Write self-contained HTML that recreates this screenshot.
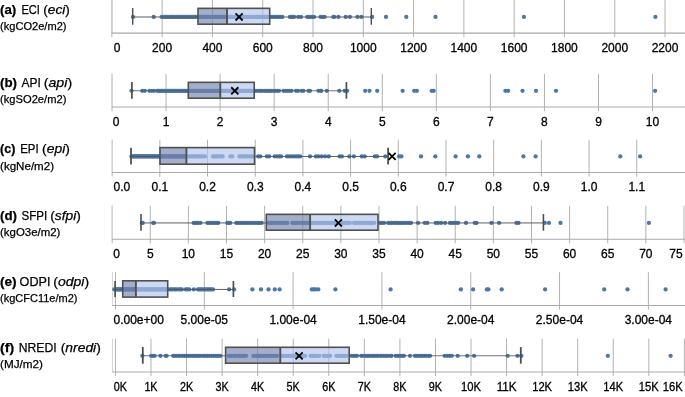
<!DOCTYPE html>
<html><head><meta charset="utf-8"><title>Box plots</title>
<style>html,body{margin:0;padding:0;background:#fff;}body{width:685px;height:397px;overflow:hidden;position:relative;font-family:"Liberation Sans",sans-serif;}</style>
</head><body>
<svg width="685" height="397" viewBox="0 0 685 397" style="display:block;position:absolute;left:0;top:0;will-change:transform" font-family="Liberation Sans, sans-serif">
<rect x="0" y="0" width="685" height="397" fill="#ffffff"/>
<g><line x1="111.85" y1="0.00" x2="111.85" y2="37.20" stroke="#b2b2b2" stroke-width="1.0"/><line x1="162.14" y1="0.00" x2="162.14" y2="37.20" stroke="#b2b2b2" stroke-width="1.0"/><line x1="212.43" y1="0.00" x2="212.43" y2="37.20" stroke="#b2b2b2" stroke-width="1.0"/><line x1="262.72" y1="0.00" x2="262.72" y2="37.20" stroke="#b2b2b2" stroke-width="1.0"/><line x1="313.01" y1="0.00" x2="313.01" y2="37.20" stroke="#b2b2b2" stroke-width="1.0"/><line x1="363.30" y1="0.00" x2="363.30" y2="37.20" stroke="#b2b2b2" stroke-width="1.0"/><line x1="413.59" y1="0.00" x2="413.59" y2="37.20" stroke="#b2b2b2" stroke-width="1.0"/><line x1="463.88" y1="0.00" x2="463.88" y2="37.20" stroke="#b2b2b2" stroke-width="1.0"/><line x1="514.17" y1="0.00" x2="514.17" y2="37.20" stroke="#b2b2b2" stroke-width="1.0"/><line x1="564.46" y1="0.00" x2="564.46" y2="37.20" stroke="#b2b2b2" stroke-width="1.0"/><line x1="614.75" y1="0.00" x2="614.75" y2="37.20" stroke="#b2b2b2" stroke-width="1.0"/><line x1="665.04" y1="0.00" x2="665.04" y2="37.20" stroke="#b2b2b2" stroke-width="1.0"/><line x1="112.45" y1="0.00" x2="112.45" y2="33.10" stroke="#d4d4d4" stroke-width="1.0"/><line x1="111.9" y1="33.10" x2="685" y2="33.10" stroke="#a9a9a9" stroke-width="1.05"/><g fill="#4a78aa"><circle cx="133.00" cy="16.95" r="2.15"/><circle cx="153.70" cy="16.95" r="2.15"/><circle cx="161.63" cy="16.95" r="2.15"/><circle cx="162.66" cy="16.95" r="2.15"/><circle cx="163.96" cy="16.95" r="2.15"/><circle cx="164.83" cy="16.95" r="2.15"/><circle cx="166.11" cy="16.95" r="2.15"/><circle cx="167.15" cy="16.95" r="2.15"/><circle cx="168.12" cy="16.95" r="2.15"/><circle cx="169.40" cy="16.95" r="2.15"/><circle cx="170.31" cy="16.95" r="2.15"/><circle cx="171.57" cy="16.95" r="2.15"/><circle cx="172.53" cy="16.95" r="2.15"/><circle cx="173.64" cy="16.95" r="2.15"/><circle cx="174.87" cy="16.95" r="2.15"/><circle cx="176.13" cy="16.95" r="2.15"/><circle cx="176.95" cy="16.95" r="2.15"/><circle cx="178.09" cy="16.95" r="2.15"/><circle cx="179.35" cy="16.95" r="2.15"/><circle cx="180.58" cy="16.95" r="2.15"/><circle cx="181.53" cy="16.95" r="2.15"/><circle cx="182.56" cy="16.95" r="2.15"/><circle cx="183.89" cy="16.95" r="2.15"/><circle cx="184.62" cy="16.95" r="2.15"/><circle cx="186.04" cy="16.95" r="2.15"/><circle cx="186.92" cy="16.95" r="2.15"/><circle cx="187.96" cy="16.95" r="2.15"/><circle cx="189.05" cy="16.95" r="2.15"/><circle cx="190.22" cy="16.95" r="2.15"/><circle cx="191.53" cy="16.95" r="2.15"/><circle cx="192.37" cy="16.95" r="2.15"/><circle cx="193.63" cy="16.95" r="2.15"/><circle cx="194.76" cy="16.95" r="2.15"/><circle cx="195.75" cy="16.95" r="2.15"/><circle cx="196.92" cy="16.95" r="2.15"/><circle cx="197.83" cy="16.95" r="2.15"/><circle cx="198.92" cy="16.95" r="2.15"/><circle cx="200.08" cy="16.95" r="2.15"/><circle cx="201.37" cy="16.95" r="2.15"/><circle cx="202.37" cy="16.95" r="2.15"/><circle cx="203.43" cy="16.95" r="2.15"/><circle cx="204.63" cy="16.95" r="2.15"/><circle cx="205.68" cy="16.95" r="2.15"/><circle cx="206.72" cy="16.95" r="2.15"/><circle cx="208.02" cy="16.95" r="2.15"/><circle cx="209.08" cy="16.95" r="2.15"/><circle cx="210.00" cy="16.95" r="2.15"/><circle cx="211.23" cy="16.95" r="2.15"/><circle cx="212.31" cy="16.95" r="2.15"/><circle cx="213.55" cy="16.95" r="2.15"/><circle cx="214.59" cy="16.95" r="2.15"/><circle cx="215.52" cy="16.95" r="2.15"/><circle cx="216.89" cy="16.95" r="2.15"/><circle cx="217.65" cy="16.95" r="2.15"/><circle cx="218.87" cy="16.95" r="2.15"/><circle cx="220.10" cy="16.95" r="2.15"/><circle cx="220.96" cy="16.95" r="2.15"/><circle cx="222.20" cy="16.95" r="2.15"/><circle cx="223.12" cy="16.95" r="2.15"/><circle cx="224.47" cy="16.95" r="2.15"/><circle cx="225.61" cy="16.95" r="2.15"/><circle cx="226.63" cy="16.95" r="2.15"/><circle cx="227.85" cy="16.95" r="2.15"/><circle cx="228.73" cy="16.95" r="2.15"/><circle cx="229.98" cy="16.95" r="2.15"/><circle cx="231.04" cy="16.95" r="2.15"/><circle cx="232.13" cy="16.95" r="2.15"/><circle cx="233.18" cy="16.95" r="2.15"/><circle cx="234.44" cy="16.95" r="2.15"/><circle cx="235.58" cy="16.95" r="2.15"/><circle cx="236.49" cy="16.95" r="2.15"/><circle cx="237.67" cy="16.95" r="2.15"/><circle cx="238.52" cy="16.95" r="2.15"/><circle cx="239.88" cy="16.95" r="2.15"/><circle cx="240.96" cy="16.95" r="2.15"/><circle cx="242.20" cy="16.95" r="2.15"/><circle cx="243.23" cy="16.95" r="2.15"/><circle cx="244.11" cy="16.95" r="2.15"/><circle cx="245.25" cy="16.95" r="2.15"/><circle cx="246.47" cy="16.95" r="2.15"/><circle cx="247.31" cy="16.95" r="2.15"/><circle cx="248.58" cy="16.95" r="2.15"/><circle cx="249.57" cy="16.95" r="2.15"/><circle cx="250.65" cy="16.95" r="2.15"/><circle cx="251.72" cy="16.95" r="2.15"/><circle cx="253.11" cy="16.95" r="2.15"/><circle cx="253.95" cy="16.95" r="2.15"/><circle cx="255.10" cy="16.95" r="2.15"/><circle cx="256.26" cy="16.95" r="2.15"/><circle cx="257.55" cy="16.95" r="2.15"/><circle cx="258.33" cy="16.95" r="2.15"/><circle cx="259.58" cy="16.95" r="2.15"/><circle cx="260.72" cy="16.95" r="2.15"/><circle cx="261.95" cy="16.95" r="2.15"/><circle cx="263.03" cy="16.95" r="2.15"/><circle cx="264.15" cy="16.95" r="2.15"/><circle cx="265.01" cy="16.95" r="2.15"/><circle cx="266.17" cy="16.95" r="2.15"/><circle cx="267.24" cy="16.95" r="2.15"/><circle cx="268.55" cy="16.95" r="2.15"/><circle cx="269.68" cy="16.95" r="2.15"/><circle cx="271.50" cy="16.95" r="2.15"/><circle cx="272.84" cy="16.95" r="2.15"/><circle cx="274.49" cy="16.95" r="2.15"/><circle cx="276.09" cy="16.95" r="2.15"/><circle cx="277.89" cy="16.95" r="2.15"/><circle cx="279.57" cy="16.95" r="2.15"/><circle cx="280.91" cy="16.95" r="2.15"/><circle cx="282.30" cy="16.95" r="2.15"/><circle cx="289.90" cy="16.95" r="2.15"/><circle cx="291.40" cy="16.95" r="2.15"/><circle cx="292.80" cy="16.95" r="2.15"/><circle cx="294.20" cy="16.95" r="2.15"/><circle cx="298.20" cy="16.95" r="2.15"/><circle cx="301.00" cy="16.95" r="2.15"/><circle cx="307.30" cy="16.95" r="2.15"/><circle cx="309.00" cy="16.95" r="2.15"/><circle cx="310.70" cy="16.95" r="2.15"/><circle cx="312.40" cy="16.95" r="2.15"/><circle cx="314.10" cy="16.95" r="2.15"/><circle cx="320.60" cy="16.95" r="2.15"/><circle cx="322.60" cy="16.95" r="2.15"/><circle cx="324.60" cy="16.95" r="2.15"/><circle cx="333.40" cy="16.95" r="2.15"/><circle cx="334.20" cy="16.95" r="2.15"/><circle cx="338.40" cy="16.95" r="2.15"/><circle cx="345.70" cy="16.95" r="2.15"/><circle cx="349.90" cy="16.95" r="2.15"/><circle cx="357.50" cy="16.95" r="2.15"/><circle cx="361.40" cy="16.95" r="2.15"/><circle cx="372.20" cy="16.95" r="2.15"/><circle cx="386.00" cy="16.95" r="2.15"/><circle cx="406.30" cy="16.95" r="2.15"/><circle cx="435.50" cy="16.95" r="2.15"/><circle cx="523.90" cy="16.95" r="2.15"/><circle cx="655.40" cy="16.95" r="2.15"/></g><line x1="132.70" y1="17.00" x2="198.00" y2="17.00" stroke="#545454" stroke-opacity="0.95" stroke-width="1.0"/><line x1="269.70" y1="17.00" x2="371.30" y2="17.00" stroke="#545454" stroke-opacity="0.95" stroke-width="1.0"/><line x1="132.70" y1="8.00" x2="132.70" y2="24.80" stroke="#4e4e4e" stroke-width="1.4"/><line x1="371.30" y1="8.00" x2="371.30" y2="24.80" stroke="#4e4e4e" stroke-width="1.4"/><rect x="198.00" y="8.35" width="29.00" height="15.85" fill="rgb(116,131,172)" fill-opacity="0.65"/><rect x="227.00" y="8.35" width="42.70" height="15.85" fill="rgb(178,195,235)" fill-opacity="0.65"/><rect x="198.00" y="8.35" width="71.70" height="15.85" fill="none" stroke="#505050" stroke-width="1.6"/><line x1="227.00" y1="8.35" x2="227.00" y2="24.20" stroke="#505050" stroke-width="1.9"/><path d="M235.55 13.40L242.65 20.50M235.55 20.50L242.65 13.40" stroke="#000" stroke-width="1.8" fill="none"/><text x="117.00" y="51.70" font-size="12" text-anchor="middle" fill="#000" stroke="#000" stroke-width="0.3">0</text><text x="162.14" y="51.70" font-size="12" text-anchor="middle" fill="#000" stroke="#000" stroke-width="0.3">200</text><text x="212.43" y="51.70" font-size="12" text-anchor="middle" fill="#000" stroke="#000" stroke-width="0.3">400</text><text x="262.72" y="51.70" font-size="12" text-anchor="middle" fill="#000" stroke="#000" stroke-width="0.3">600</text><text x="313.01" y="51.70" font-size="12" text-anchor="middle" fill="#000" stroke="#000" stroke-width="0.3">800</text><text x="363.30" y="51.70" font-size="12" text-anchor="middle" fill="#000" stroke="#000" stroke-width="0.3">1000</text><text x="413.59" y="51.70" font-size="12" text-anchor="middle" fill="#000" stroke="#000" stroke-width="0.3">1200</text><text x="463.88" y="51.70" font-size="12" text-anchor="middle" fill="#000" stroke="#000" stroke-width="0.3">1400</text><text x="514.17" y="51.70" font-size="12" text-anchor="middle" fill="#000" stroke="#000" stroke-width="0.3">1600</text><text x="564.46" y="51.70" font-size="12" text-anchor="middle" fill="#000" stroke="#000" stroke-width="0.3">1800</text><text x="614.75" y="51.70" font-size="12" text-anchor="middle" fill="#000" stroke="#000" stroke-width="0.3">2000</text><text x="665.04" y="51.70" font-size="12" text-anchor="middle" fill="#000" stroke="#000" stroke-width="0.3">2200</text><text x="0.05" y="13.50" font-size="13.0" textLength="16.19" lengthAdjust="spacingAndGlyphs" fill="#000" stroke="#000" stroke-width="0.25" font-weight="bold">(a)</text><text x="21.40" y="13.50" font-size="13.0" textLength="18.49" lengthAdjust="spacingAndGlyphs" fill="#000" stroke="#000" stroke-width="0.25">ECI</text><text x="43.25" y="13.50" font-size="13.0" textLength="26.60" lengthAdjust="spacingAndGlyphs" fill="#000" stroke="#000" stroke-width="0.25">(<tspan font-style='italic'>eci</tspan>)</text><text x="0.05" y="29.80" font-size="11.0" textLength="66.48" lengthAdjust="spacingAndGlyphs" fill="#000" stroke="#000" stroke-width="0.25">(kgCO2e/m2)</text></g>
<g><line x1="112.00" y1="73.80" x2="112.00" y2="111.15" stroke="#b2b2b2" stroke-width="1.0"/><line x1="166.06" y1="73.80" x2="166.06" y2="111.15" stroke="#b2b2b2" stroke-width="1.0"/><line x1="220.11" y1="73.80" x2="220.11" y2="111.15" stroke="#b2b2b2" stroke-width="1.0"/><line x1="274.16" y1="73.80" x2="274.16" y2="111.15" stroke="#b2b2b2" stroke-width="1.0"/><line x1="328.22" y1="73.80" x2="328.22" y2="111.15" stroke="#b2b2b2" stroke-width="1.0"/><line x1="382.27" y1="73.80" x2="382.27" y2="111.15" stroke="#b2b2b2" stroke-width="1.0"/><line x1="436.33" y1="73.80" x2="436.33" y2="111.15" stroke="#b2b2b2" stroke-width="1.0"/><line x1="490.38" y1="73.80" x2="490.38" y2="111.15" stroke="#b2b2b2" stroke-width="1.0"/><line x1="544.44" y1="73.80" x2="544.44" y2="111.15" stroke="#b2b2b2" stroke-width="1.0"/><line x1="598.50" y1="73.80" x2="598.50" y2="111.15" stroke="#b2b2b2" stroke-width="1.0"/><line x1="652.55" y1="73.80" x2="652.55" y2="111.15" stroke="#b2b2b2" stroke-width="1.0"/><line x1="112.45" y1="73.80" x2="112.45" y2="107.05" stroke="#d4d4d4" stroke-width="1.0"/><line x1="111.9" y1="107.05" x2="685" y2="107.05" stroke="#a9a9a9" stroke-width="1.05"/><g fill="#4a78aa"><circle cx="131.50" cy="90.80" r="2.15"/><circle cx="142.30" cy="90.80" r="2.15"/><circle cx="144.80" cy="90.80" r="2.15"/><circle cx="149.50" cy="90.80" r="2.15"/><circle cx="151.70" cy="90.80" r="2.15"/><circle cx="154.00" cy="90.80" r="2.15"/><circle cx="157.27" cy="90.80" r="2.15"/><circle cx="158.35" cy="90.80" r="2.15"/><circle cx="159.53" cy="90.80" r="2.15"/><circle cx="160.78" cy="90.80" r="2.15"/><circle cx="161.78" cy="90.80" r="2.15"/><circle cx="162.81" cy="90.80" r="2.15"/><circle cx="163.95" cy="90.80" r="2.15"/><circle cx="165.07" cy="90.80" r="2.15"/><circle cx="165.92" cy="90.80" r="2.15"/><circle cx="167.36" cy="90.80" r="2.15"/><circle cx="168.41" cy="90.80" r="2.15"/><circle cx="169.55" cy="90.80" r="2.15"/><circle cx="170.62" cy="90.80" r="2.15"/><circle cx="171.56" cy="90.80" r="2.15"/><circle cx="172.66" cy="90.80" r="2.15"/><circle cx="173.64" cy="90.80" r="2.15"/><circle cx="174.95" cy="90.80" r="2.15"/><circle cx="175.82" cy="90.80" r="2.15"/><circle cx="176.93" cy="90.80" r="2.15"/><circle cx="178.08" cy="90.80" r="2.15"/><circle cx="179.16" cy="90.80" r="2.15"/><circle cx="180.34" cy="90.80" r="2.15"/><circle cx="181.32" cy="90.80" r="2.15"/><circle cx="182.40" cy="90.80" r="2.15"/><circle cx="183.56" cy="90.80" r="2.15"/><circle cx="184.64" cy="90.80" r="2.15"/><circle cx="185.85" cy="90.80" r="2.15"/><circle cx="186.81" cy="90.80" r="2.15"/><circle cx="188.25" cy="90.80" r="2.15"/><circle cx="189.25" cy="90.80" r="2.15"/><circle cx="190.16" cy="90.80" r="2.15"/><circle cx="191.30" cy="90.80" r="2.15"/><circle cx="192.44" cy="90.80" r="2.15"/><circle cx="193.55" cy="90.80" r="2.15"/><circle cx="194.55" cy="90.80" r="2.15"/><circle cx="195.94" cy="90.80" r="2.15"/><circle cx="197.10" cy="90.80" r="2.15"/><circle cx="197.99" cy="90.80" r="2.15"/><circle cx="199.09" cy="90.80" r="2.15"/><circle cx="200.03" cy="90.80" r="2.15"/><circle cx="201.14" cy="90.80" r="2.15"/><circle cx="202.34" cy="90.80" r="2.15"/><circle cx="203.41" cy="90.80" r="2.15"/><circle cx="204.73" cy="90.80" r="2.15"/><circle cx="205.56" cy="90.80" r="2.15"/><circle cx="206.61" cy="90.80" r="2.15"/><circle cx="208.08" cy="90.80" r="2.15"/><circle cx="209.01" cy="90.80" r="2.15"/><circle cx="209.96" cy="90.80" r="2.15"/><circle cx="211.22" cy="90.80" r="2.15"/><circle cx="212.11" cy="90.80" r="2.15"/><circle cx="213.41" cy="90.80" r="2.15"/><circle cx="214.69" cy="90.80" r="2.15"/><circle cx="215.75" cy="90.80" r="2.15"/><circle cx="216.78" cy="90.80" r="2.15"/><circle cx="217.70" cy="90.80" r="2.15"/><circle cx="218.85" cy="90.80" r="2.15"/><circle cx="219.87" cy="90.80" r="2.15"/><circle cx="221.21" cy="90.80" r="2.15"/><circle cx="222.21" cy="90.80" r="2.15"/><circle cx="223.41" cy="90.80" r="2.15"/><circle cx="224.33" cy="90.80" r="2.15"/><circle cx="225.39" cy="90.80" r="2.15"/><circle cx="226.72" cy="90.80" r="2.15"/><circle cx="227.89" cy="90.80" r="2.15"/><circle cx="228.94" cy="90.80" r="2.15"/><circle cx="230.02" cy="90.80" r="2.15"/><circle cx="231.13" cy="90.80" r="2.15"/><circle cx="232.20" cy="90.80" r="2.15"/><circle cx="233.09" cy="90.80" r="2.15"/><circle cx="234.31" cy="90.80" r="2.15"/><circle cx="235.34" cy="90.80" r="2.15"/><circle cx="236.31" cy="90.80" r="2.15"/><circle cx="237.41" cy="90.80" r="2.15"/><circle cx="238.61" cy="90.80" r="2.15"/><circle cx="239.70" cy="90.80" r="2.15"/><circle cx="240.98" cy="90.80" r="2.15"/><circle cx="242.18" cy="90.80" r="2.15"/><circle cx="243.08" cy="90.80" r="2.15"/><circle cx="244.37" cy="90.80" r="2.15"/><circle cx="245.50" cy="90.80" r="2.15"/><circle cx="246.58" cy="90.80" r="2.15"/><circle cx="247.45" cy="90.80" r="2.15"/><circle cx="248.49" cy="90.80" r="2.15"/><circle cx="249.59" cy="90.80" r="2.15"/><circle cx="250.68" cy="90.80" r="2.15"/><circle cx="251.78" cy="90.80" r="2.15"/><circle cx="253.05" cy="90.80" r="2.15"/><circle cx="254.26" cy="90.80" r="2.15"/><circle cx="255.34" cy="90.80" r="2.15"/><circle cx="257.30" cy="90.80" r="2.15"/><circle cx="259.09" cy="90.80" r="2.15"/><circle cx="260.87" cy="90.80" r="2.15"/><circle cx="261.88" cy="90.80" r="2.15"/><circle cx="264.04" cy="90.80" r="2.15"/><circle cx="265.92" cy="90.80" r="2.15"/><circle cx="267.45" cy="90.80" r="2.15"/><circle cx="269.08" cy="90.80" r="2.15"/><circle cx="270.48" cy="90.80" r="2.15"/><circle cx="271.86" cy="90.80" r="2.15"/><circle cx="274.06" cy="90.80" r="2.15"/><circle cx="275.30" cy="90.80" r="2.15"/><circle cx="277.37" cy="90.80" r="2.15"/><circle cx="279.00" cy="90.80" r="2.15"/><circle cx="283.50" cy="90.80" r="2.15"/><circle cx="285.50" cy="90.80" r="2.15"/><circle cx="287.50" cy="90.80" r="2.15"/><circle cx="289.50" cy="90.80" r="2.15"/><circle cx="291.50" cy="90.80" r="2.15"/><circle cx="296.00" cy="90.80" r="2.15"/><circle cx="298.00" cy="90.80" r="2.15"/><circle cx="301.50" cy="90.80" r="2.15"/><circle cx="303.50" cy="90.80" r="2.15"/><circle cx="308.50" cy="90.80" r="2.15"/><circle cx="310.00" cy="90.80" r="2.15"/><circle cx="318.50" cy="90.80" r="2.15"/><circle cx="320.70" cy="90.80" r="2.15"/><circle cx="321.30" cy="90.80" r="2.15"/><circle cx="326.80" cy="90.80" r="2.15"/><circle cx="339.30" cy="90.80" r="2.15"/><circle cx="344.60" cy="90.80" r="2.15"/><circle cx="347.10" cy="90.80" r="2.15"/><circle cx="365.20" cy="90.80" r="2.15"/><circle cx="369.50" cy="90.80" r="2.15"/><circle cx="377.20" cy="90.80" r="2.15"/><circle cx="402.60" cy="90.80" r="2.15"/><circle cx="414.20" cy="90.80" r="2.15"/><circle cx="416.90" cy="90.80" r="2.15"/><circle cx="431.70" cy="90.80" r="2.15"/><circle cx="433.70" cy="90.80" r="2.15"/><circle cx="505.40" cy="90.80" r="2.15"/><circle cx="508.10" cy="90.80" r="2.15"/><circle cx="522.50" cy="90.80" r="2.15"/><circle cx="536.00" cy="90.80" r="2.15"/><circle cx="556.00" cy="90.80" r="2.15"/><circle cx="655.10" cy="90.80" r="2.15"/></g><line x1="131.90" y1="90.75" x2="188.30" y2="90.75" stroke="#545454" stroke-opacity="0.82" stroke-width="1.05"/><line x1="254.20" y1="90.75" x2="346.40" y2="90.75" stroke="#545454" stroke-opacity="0.82" stroke-width="1.05"/><line x1="131.90" y1="82.10" x2="131.90" y2="98.70" stroke="#4e4e4e" stroke-width="1.7"/><line x1="346.40" y1="82.10" x2="346.40" y2="98.70" stroke="#4e4e4e" stroke-width="1.7"/><rect x="188.30" y="82.35" width="32.00" height="15.85" fill="rgb(116,131,172)" fill-opacity="0.65"/><rect x="220.30" y="82.35" width="33.90" height="15.85" fill="rgb(178,195,235)" fill-opacity="0.65"/><rect x="188.30" y="82.35" width="65.90" height="15.85" fill="none" stroke="#505050" stroke-width="1.6"/><line x1="220.30" y1="82.35" x2="220.30" y2="98.20" stroke="#505050" stroke-width="1.9"/><path d="M231.25 87.25L238.35 94.35M231.25 94.35L238.35 87.25" stroke="#000" stroke-width="1.8" fill="none"/><text x="116.00" y="125.65" font-size="12" text-anchor="middle" fill="#000" stroke="#000" stroke-width="0.3">0</text><text x="166.06" y="125.65" font-size="12" text-anchor="middle" fill="#000" stroke="#000" stroke-width="0.3">1</text><text x="220.11" y="125.65" font-size="12" text-anchor="middle" fill="#000" stroke="#000" stroke-width="0.3">2</text><text x="274.16" y="125.65" font-size="12" text-anchor="middle" fill="#000" stroke="#000" stroke-width="0.3">3</text><text x="328.22" y="125.65" font-size="12" text-anchor="middle" fill="#000" stroke="#000" stroke-width="0.3">4</text><text x="382.27" y="125.65" font-size="12" text-anchor="middle" fill="#000" stroke="#000" stroke-width="0.3">5</text><text x="436.33" y="125.65" font-size="12" text-anchor="middle" fill="#000" stroke="#000" stroke-width="0.3">6</text><text x="490.38" y="125.65" font-size="12" text-anchor="middle" fill="#000" stroke="#000" stroke-width="0.3">7</text><text x="544.44" y="125.65" font-size="12" text-anchor="middle" fill="#000" stroke="#000" stroke-width="0.3">8</text><text x="598.50" y="125.65" font-size="12" text-anchor="middle" fill="#000" stroke="#000" stroke-width="0.3">9</text><text x="652.55" y="125.65" font-size="12" text-anchor="middle" fill="#000" stroke="#000" stroke-width="0.3">10</text><text x="0.05" y="86.90" font-size="13.0" textLength="17.01" lengthAdjust="spacingAndGlyphs" fill="#000" stroke="#000" stroke-width="0.25" font-weight="bold">(b)</text><text x="21.40" y="86.90" font-size="13.0" textLength="19.36" lengthAdjust="spacingAndGlyphs" fill="#000" stroke="#000" stroke-width="0.25">API</text><text x="43.70" y="86.90" font-size="13.0" textLength="28.50" lengthAdjust="spacingAndGlyphs" fill="#000" stroke="#000" stroke-width="0.25">(<tspan font-style='italic'>api</tspan>)</text><text x="0.05" y="103.30" font-size="11.0" textLength="66.33" lengthAdjust="spacingAndGlyphs" fill="#000" stroke="#000" stroke-width="0.25">(kgSO2e/m2)</text></g>
<g><line x1="112.15" y1="139.70" x2="112.15" y2="176.57" stroke="#b2b2b2" stroke-width="1.0"/><line x1="159.84" y1="139.70" x2="159.84" y2="176.57" stroke="#b2b2b2" stroke-width="1.0"/><line x1="207.53" y1="139.70" x2="207.53" y2="176.57" stroke="#b2b2b2" stroke-width="1.0"/><line x1="255.22" y1="139.70" x2="255.22" y2="176.57" stroke="#b2b2b2" stroke-width="1.0"/><line x1="302.91" y1="139.70" x2="302.91" y2="176.57" stroke="#b2b2b2" stroke-width="1.0"/><line x1="350.60" y1="139.70" x2="350.60" y2="176.57" stroke="#b2b2b2" stroke-width="1.0"/><line x1="398.29" y1="139.70" x2="398.29" y2="176.57" stroke="#b2b2b2" stroke-width="1.0"/><line x1="445.98" y1="139.70" x2="445.98" y2="176.57" stroke="#b2b2b2" stroke-width="1.0"/><line x1="493.67" y1="139.70" x2="493.67" y2="176.57" stroke="#b2b2b2" stroke-width="1.0"/><line x1="541.36" y1="139.70" x2="541.36" y2="176.57" stroke="#b2b2b2" stroke-width="1.0"/><line x1="589.05" y1="139.70" x2="589.05" y2="176.57" stroke="#b2b2b2" stroke-width="1.0"/><line x1="636.74" y1="139.70" x2="636.74" y2="176.57" stroke="#b2b2b2" stroke-width="1.0"/><line x1="112.45" y1="139.70" x2="112.45" y2="172.47" stroke="#d4d4d4" stroke-width="1.0"/><line x1="111.9" y1="172.47" x2="685" y2="172.47" stroke="#a9a9a9" stroke-width="1.05"/><g fill="#4a78aa"><circle cx="131.46" cy="156.40" r="2.15"/><circle cx="132.36" cy="156.40" r="2.15"/><circle cx="133.48" cy="156.40" r="2.15"/><circle cx="134.29" cy="156.40" r="2.15"/><circle cx="134.97" cy="156.40" r="2.15"/><circle cx="135.85" cy="156.40" r="2.15"/><circle cx="136.76" cy="156.40" r="2.15"/><circle cx="137.96" cy="156.40" r="2.15"/><circle cx="138.82" cy="156.40" r="2.15"/><circle cx="139.46" cy="156.40" r="2.15"/><circle cx="140.63" cy="156.40" r="2.15"/><circle cx="141.59" cy="156.40" r="2.15"/><circle cx="142.36" cy="156.40" r="2.15"/><circle cx="143.14" cy="156.40" r="2.15"/><circle cx="144.12" cy="156.40" r="2.15"/><circle cx="144.85" cy="156.40" r="2.15"/><circle cx="145.71" cy="156.40" r="2.15"/><circle cx="146.99" cy="156.40" r="2.15"/><circle cx="147.76" cy="156.40" r="2.15"/><circle cx="148.61" cy="156.40" r="2.15"/><circle cx="149.67" cy="156.40" r="2.15"/><circle cx="150.37" cy="156.40" r="2.15"/><circle cx="151.45" cy="156.40" r="2.15"/><circle cx="152.33" cy="156.40" r="2.15"/><circle cx="152.98" cy="156.40" r="2.15"/><circle cx="153.90" cy="156.40" r="2.15"/><circle cx="154.82" cy="156.40" r="2.15"/><circle cx="155.70" cy="156.40" r="2.15"/><circle cx="156.73" cy="156.40" r="2.15"/><circle cx="157.50" cy="156.40" r="2.15"/><circle cx="158.47" cy="156.40" r="2.15"/><circle cx="159.25" cy="156.40" r="2.15"/><circle cx="160.46" cy="156.40" r="2.15"/><circle cx="161.14" cy="156.40" r="2.15"/><circle cx="162.08" cy="156.40" r="2.15"/><circle cx="163.03" cy="156.40" r="2.15"/><circle cx="164.06" cy="156.40" r="2.15"/><circle cx="164.77" cy="156.40" r="2.15"/><circle cx="165.87" cy="156.40" r="2.15"/><circle cx="166.60" cy="156.40" r="2.15"/><circle cx="167.51" cy="156.40" r="2.15"/><circle cx="168.41" cy="156.40" r="2.15"/><circle cx="169.11" cy="156.40" r="2.15"/><circle cx="170.18" cy="156.40" r="2.15"/><circle cx="170.97" cy="156.40" r="2.15"/><circle cx="171.80" cy="156.40" r="2.15"/><circle cx="173.02" cy="156.40" r="2.15"/><circle cx="173.67" cy="156.40" r="2.15"/><circle cx="174.69" cy="156.40" r="2.15"/><circle cx="175.69" cy="156.40" r="2.15"/><circle cx="176.52" cy="156.40" r="2.15"/><circle cx="177.33" cy="156.40" r="2.15"/><circle cx="178.31" cy="156.40" r="2.15"/><circle cx="179.22" cy="156.40" r="2.15"/><circle cx="180.21" cy="156.40" r="2.15"/><circle cx="180.84" cy="156.40" r="2.15"/><circle cx="181.92" cy="156.40" r="2.15"/><circle cx="182.70" cy="156.40" r="2.15"/><circle cx="183.61" cy="156.40" r="2.15"/><circle cx="184.71" cy="156.40" r="2.15"/><circle cx="185.50" cy="156.40" r="2.15"/><circle cx="186.42" cy="156.40" r="2.15"/><circle cx="188.81" cy="156.40" r="2.15"/><circle cx="190.53" cy="156.40" r="2.15"/><circle cx="191.75" cy="156.40" r="2.15"/><circle cx="193.49" cy="156.40" r="2.15"/><circle cx="195.00" cy="156.40" r="2.15"/><circle cx="196.61" cy="156.40" r="2.15"/><circle cx="198.35" cy="156.40" r="2.15"/><circle cx="199.76" cy="156.40" r="2.15"/><circle cx="201.43" cy="156.40" r="2.15"/><circle cx="202.98" cy="156.40" r="2.15"/><circle cx="204.95" cy="156.40" r="2.15"/><circle cx="212.94" cy="156.40" r="2.15"/><circle cx="214.66" cy="156.40" r="2.15"/><circle cx="216.31" cy="156.40" r="2.15"/><circle cx="217.43" cy="156.40" r="2.15"/><circle cx="219.24" cy="156.40" r="2.15"/><circle cx="221.11" cy="156.40" r="2.15"/><circle cx="222.64" cy="156.40" r="2.15"/><circle cx="230.30" cy="156.40" r="2.15"/><circle cx="232.30" cy="156.40" r="2.15"/><circle cx="239.40" cy="156.40" r="2.15"/><circle cx="240.75" cy="156.40" r="2.15"/><circle cx="242.65" cy="156.40" r="2.15"/><circle cx="244.01" cy="156.40" r="2.15"/><circle cx="245.79" cy="156.40" r="2.15"/><circle cx="247.31" cy="156.40" r="2.15"/><circle cx="249.44" cy="156.40" r="2.15"/><circle cx="251.18" cy="156.40" r="2.15"/><circle cx="252.60" cy="156.40" r="2.15"/><circle cx="258.20" cy="156.40" r="2.15"/><circle cx="260.30" cy="156.40" r="2.15"/><circle cx="266.90" cy="156.40" r="2.15"/><circle cx="269.10" cy="156.40" r="2.15"/><circle cx="274.70" cy="156.40" r="2.15"/><circle cx="277.00" cy="156.40" r="2.15"/><circle cx="279.10" cy="156.40" r="2.15"/><circle cx="281.00" cy="156.40" r="2.15"/><circle cx="287.00" cy="156.40" r="2.15"/><circle cx="289.20" cy="156.40" r="2.15"/><circle cx="291.40" cy="156.40" r="2.15"/><circle cx="293.90" cy="156.40" r="2.15"/><circle cx="296.20" cy="156.40" r="2.15"/><circle cx="298.30" cy="156.40" r="2.15"/><circle cx="300.20" cy="156.40" r="2.15"/><circle cx="310.00" cy="156.40" r="2.15"/><circle cx="315.90" cy="156.40" r="2.15"/><circle cx="318.40" cy="156.40" r="2.15"/><circle cx="321.60" cy="156.40" r="2.15"/><circle cx="325.10" cy="156.40" r="2.15"/><circle cx="328.80" cy="156.40" r="2.15"/><circle cx="339.60" cy="156.40" r="2.15"/><circle cx="341.90" cy="156.40" r="2.15"/><circle cx="349.40" cy="156.40" r="2.15"/><circle cx="353.90" cy="156.40" r="2.15"/><circle cx="361.70" cy="156.40" r="2.15"/><circle cx="364.70" cy="156.40" r="2.15"/><circle cx="374.80" cy="156.40" r="2.15"/><circle cx="377.00" cy="156.40" r="2.15"/><circle cx="385.30" cy="156.40" r="2.15"/><circle cx="399.10" cy="156.40" r="2.15"/><circle cx="401.40" cy="156.40" r="2.15"/><circle cx="421.00" cy="156.40" r="2.15"/><circle cx="435.30" cy="156.40" r="2.15"/><circle cx="455.60" cy="156.40" r="2.15"/><circle cx="467.90" cy="156.40" r="2.15"/><circle cx="479.30" cy="156.40" r="2.15"/><circle cx="523.40" cy="156.40" r="2.15"/><circle cx="535.60" cy="156.40" r="2.15"/><circle cx="620.30" cy="156.40" r="2.15"/><circle cx="640.10" cy="156.40" r="2.15"/></g><line x1="131.00" y1="156.45" x2="160.00" y2="156.45" stroke="#545454" stroke-opacity="0.95" stroke-width="1.0"/><line x1="254.50" y1="156.45" x2="388.10" y2="156.45" stroke="#545454" stroke-opacity="0.95" stroke-width="1.0"/><line x1="131.00" y1="147.70" x2="131.00" y2="164.40" stroke="#4e4e4e" stroke-width="1.75"/><line x1="388.10" y1="147.70" x2="388.10" y2="164.40" stroke="#4e4e4e" stroke-width="1.75"/><rect x="160.00" y="147.60" width="26.40" height="16.60" fill="rgb(116,131,172)" fill-opacity="0.65"/><rect x="186.40" y="147.60" width="68.10" height="16.60" fill="rgb(178,195,235)" fill-opacity="0.65"/><rect x="160.00" y="147.60" width="94.50" height="16.60" fill="none" stroke="#505050" stroke-width="1.6"/><line x1="186.40" y1="147.60" x2="186.40" y2="164.20" stroke="#505050" stroke-width="1.9"/><path d="M388.55 152.85L395.65 159.95M388.55 159.95L395.65 152.85" stroke="#000" stroke-width="1.8" fill="none"/><text x="121.80" y="191.07" font-size="12" text-anchor="middle" fill="#000" stroke="#000" stroke-width="0.3">0.0</text><text x="159.84" y="191.07" font-size="12" text-anchor="middle" fill="#000" stroke="#000" stroke-width="0.3">0.1</text><text x="207.53" y="191.07" font-size="12" text-anchor="middle" fill="#000" stroke="#000" stroke-width="0.3">0.2</text><text x="255.22" y="191.07" font-size="12" text-anchor="middle" fill="#000" stroke="#000" stroke-width="0.3">0.3</text><text x="302.91" y="191.07" font-size="12" text-anchor="middle" fill="#000" stroke="#000" stroke-width="0.3">0.4</text><text x="350.60" y="191.07" font-size="12" text-anchor="middle" fill="#000" stroke="#000" stroke-width="0.3">0.5</text><text x="398.29" y="191.07" font-size="12" text-anchor="middle" fill="#000" stroke="#000" stroke-width="0.3">0.6</text><text x="445.98" y="191.07" font-size="12" text-anchor="middle" fill="#000" stroke="#000" stroke-width="0.3">0.7</text><text x="493.67" y="191.07" font-size="12" text-anchor="middle" fill="#000" stroke="#000" stroke-width="0.3">0.8</text><text x="541.36" y="191.07" font-size="12" text-anchor="middle" fill="#000" stroke="#000" stroke-width="0.3">0.9</text><text x="589.05" y="191.07" font-size="12" text-anchor="middle" fill="#000" stroke="#000" stroke-width="0.3">1.0</text><text x="636.74" y="191.07" font-size="12" text-anchor="middle" fill="#000" stroke="#000" stroke-width="0.3">1.1</text><text x="0.05" y="153.30" font-size="13.0" textLength="15.25" lengthAdjust="spacingAndGlyphs" fill="#000" stroke="#000" stroke-width="0.25" font-weight="bold">(c)</text><text x="20.20" y="153.30" font-size="13.0" textLength="18.49" lengthAdjust="spacingAndGlyphs" fill="#000" stroke="#000" stroke-width="0.25">EPI</text><text x="42.05" y="153.30" font-size="13.0" textLength="27.83" lengthAdjust="spacingAndGlyphs" fill="#000" stroke="#000" stroke-width="0.25">(<tspan font-style='italic'>epi</tspan>)</text><text x="0.05" y="169.60" font-size="11.0" textLength="53.98" lengthAdjust="spacingAndGlyphs" fill="#000" stroke="#000" stroke-width="0.25">(kgNe/m2)</text></g>
<g><line x1="112.13" y1="205.80" x2="112.13" y2="243.30" stroke="#b2b2b2" stroke-width="1.0"/><line x1="150.25" y1="205.80" x2="150.25" y2="243.30" stroke="#b2b2b2" stroke-width="1.0"/><line x1="188.38" y1="205.80" x2="188.38" y2="243.30" stroke="#b2b2b2" stroke-width="1.0"/><line x1="226.50" y1="205.80" x2="226.50" y2="243.30" stroke="#b2b2b2" stroke-width="1.0"/><line x1="264.62" y1="205.80" x2="264.62" y2="243.30" stroke="#b2b2b2" stroke-width="1.0"/><line x1="302.75" y1="205.80" x2="302.75" y2="243.30" stroke="#b2b2b2" stroke-width="1.0"/><line x1="340.87" y1="205.80" x2="340.87" y2="243.30" stroke="#b2b2b2" stroke-width="1.0"/><line x1="378.99" y1="205.80" x2="378.99" y2="243.30" stroke="#b2b2b2" stroke-width="1.0"/><line x1="417.11" y1="205.80" x2="417.11" y2="243.30" stroke="#b2b2b2" stroke-width="1.0"/><line x1="455.24" y1="205.80" x2="455.24" y2="243.30" stroke="#b2b2b2" stroke-width="1.0"/><line x1="493.36" y1="205.80" x2="493.36" y2="243.30" stroke="#b2b2b2" stroke-width="1.0"/><line x1="531.48" y1="205.80" x2="531.48" y2="243.30" stroke="#b2b2b2" stroke-width="1.0"/><line x1="569.61" y1="205.80" x2="569.61" y2="243.30" stroke="#b2b2b2" stroke-width="1.0"/><line x1="607.73" y1="205.80" x2="607.73" y2="243.30" stroke="#b2b2b2" stroke-width="1.0"/><line x1="645.85" y1="205.80" x2="645.85" y2="243.30" stroke="#b2b2b2" stroke-width="1.0"/><line x1="683.97" y1="205.80" x2="683.97" y2="243.30" stroke="#b2b2b2" stroke-width="1.0"/><line x1="112.45" y1="205.80" x2="112.45" y2="239.20" stroke="#d4d4d4" stroke-width="1.0"/><line x1="111.9" y1="239.20" x2="685" y2="239.20" stroke="#a9a9a9" stroke-width="1.05"/><g fill="#4a78aa"><circle cx="141.80" cy="222.95" r="2.15"/><circle cx="142.70" cy="222.95" r="2.15"/><circle cx="153.20" cy="222.95" r="2.15"/><circle cx="153.90" cy="222.95" r="2.15"/><circle cx="193.70" cy="222.95" r="2.15"/><circle cx="195.43" cy="222.95" r="2.15"/><circle cx="197.00" cy="222.95" r="2.15"/><circle cx="198.29" cy="222.95" r="2.15"/><circle cx="200.33" cy="222.95" r="2.15"/><circle cx="207.48" cy="222.95" r="2.15"/><circle cx="208.63" cy="222.95" r="2.15"/><circle cx="210.67" cy="222.95" r="2.15"/><circle cx="211.94" cy="222.95" r="2.15"/><circle cx="213.59" cy="222.95" r="2.15"/><circle cx="215.49" cy="222.95" r="2.15"/><circle cx="217.00" cy="222.95" r="2.15"/><circle cx="218.20" cy="222.95" r="2.15"/><circle cx="227.30" cy="222.95" r="2.15"/><circle cx="228.81" cy="222.95" r="2.15"/><circle cx="230.24" cy="222.95" r="2.15"/><circle cx="236.40" cy="222.95" r="2.15"/><circle cx="237.94" cy="222.95" r="2.15"/><circle cx="240.00" cy="222.95" r="2.15"/><circle cx="241.07" cy="222.95" r="2.15"/><circle cx="243.25" cy="222.95" r="2.15"/><circle cx="244.85" cy="222.95" r="2.15"/><circle cx="246.17" cy="222.95" r="2.15"/><circle cx="248.15" cy="222.95" r="2.15"/><circle cx="250.11" cy="222.95" r="2.15"/><circle cx="251.71" cy="222.95" r="2.15"/><circle cx="253.01" cy="222.95" r="2.15"/><circle cx="255.54" cy="222.95" r="2.15"/><circle cx="257.06" cy="222.95" r="2.15"/><circle cx="258.92" cy="222.95" r="2.15"/><circle cx="259.84" cy="222.95" r="2.15"/><circle cx="261.69" cy="222.95" r="2.15"/><circle cx="268.70" cy="222.95" r="2.15"/><circle cx="270.83" cy="222.95" r="2.15"/><circle cx="272.17" cy="222.95" r="2.15"/><circle cx="273.88" cy="222.95" r="2.15"/><circle cx="276.02" cy="222.95" r="2.15"/><circle cx="278.36" cy="222.95" r="2.15"/><circle cx="280.12" cy="222.95" r="2.15"/><circle cx="281.41" cy="222.95" r="2.15"/><circle cx="283.15" cy="222.95" r="2.15"/><circle cx="285.77" cy="222.95" r="2.15"/><circle cx="287.27" cy="222.95" r="2.15"/><circle cx="292.31" cy="222.95" r="2.15"/><circle cx="294.79" cy="222.95" r="2.15"/><circle cx="296.38" cy="222.95" r="2.15"/><circle cx="297.87" cy="222.95" r="2.15"/><circle cx="300.59" cy="222.95" r="2.15"/><circle cx="302.13" cy="222.95" r="2.15"/><circle cx="304.15" cy="222.95" r="2.15"/><circle cx="305.28" cy="222.95" r="2.15"/><circle cx="307.91" cy="222.95" r="2.15"/><circle cx="308.97" cy="222.95" r="2.15"/><circle cx="311.61" cy="222.95" r="2.15"/><circle cx="313.05" cy="222.95" r="2.15"/><circle cx="314.79" cy="222.95" r="2.15"/><circle cx="316.85" cy="222.95" r="2.15"/><circle cx="319.08" cy="222.95" r="2.15"/><circle cx="320.27" cy="222.95" r="2.15"/><circle cx="321.98" cy="222.95" r="2.15"/><circle cx="324.23" cy="222.95" r="2.15"/><circle cx="325.79" cy="222.95" r="2.15"/><circle cx="327.51" cy="222.95" r="2.15"/><circle cx="329.41" cy="222.95" r="2.15"/><circle cx="331.15" cy="222.95" r="2.15"/><circle cx="333.15" cy="222.95" r="2.15"/><circle cx="335.11" cy="222.95" r="2.15"/><circle cx="342.70" cy="222.95" r="2.15"/><circle cx="344.23" cy="222.95" r="2.15"/><circle cx="346.25" cy="222.95" r="2.15"/><circle cx="347.77" cy="222.95" r="2.15"/><circle cx="349.85" cy="222.95" r="2.15"/><circle cx="354.03" cy="222.95" r="2.15"/><circle cx="355.70" cy="222.95" r="2.15"/><circle cx="357.19" cy="222.95" r="2.15"/><circle cx="359.32" cy="222.95" r="2.15"/><circle cx="361.63" cy="222.95" r="2.15"/><circle cx="362.66" cy="222.95" r="2.15"/><circle cx="365.22" cy="222.95" r="2.15"/><circle cx="366.68" cy="222.95" r="2.15"/><circle cx="368.60" cy="222.95" r="2.15"/><circle cx="370.78" cy="222.95" r="2.15"/><circle cx="372.19" cy="222.95" r="2.15"/><circle cx="374.16" cy="222.95" r="2.15"/><circle cx="380.00" cy="222.95" r="2.15"/><circle cx="382.00" cy="222.95" r="2.15"/><circle cx="384.00" cy="222.95" r="2.15"/><circle cx="388.19" cy="222.95" r="2.15"/><circle cx="390.28" cy="222.95" r="2.15"/><circle cx="391.44" cy="222.95" r="2.15"/><circle cx="393.73" cy="222.95" r="2.15"/><circle cx="395.41" cy="222.95" r="2.15"/><circle cx="397.14" cy="222.95" r="2.15"/><circle cx="398.70" cy="222.95" r="2.15"/><circle cx="400.45" cy="222.95" r="2.15"/><circle cx="401.95" cy="222.95" r="2.15"/><circle cx="403.83" cy="222.95" r="2.15"/><circle cx="405.57" cy="222.95" r="2.15"/><circle cx="408.04" cy="222.95" r="2.15"/><circle cx="409.36" cy="222.95" r="2.15"/><circle cx="411.06" cy="222.95" r="2.15"/><circle cx="418.00" cy="222.95" r="2.15"/><circle cx="424.80" cy="222.95" r="2.15"/><circle cx="427.30" cy="222.95" r="2.15"/><circle cx="435.70" cy="222.95" r="2.15"/><circle cx="438.00" cy="222.95" r="2.15"/><circle cx="441.10" cy="222.95" r="2.15"/><circle cx="445.10" cy="222.95" r="2.15"/><circle cx="450.00" cy="222.95" r="2.15"/><circle cx="452.00" cy="222.95" r="2.15"/><circle cx="454.00" cy="222.95" r="2.15"/><circle cx="456.00" cy="222.95" r="2.15"/><circle cx="458.10" cy="222.95" r="2.15"/><circle cx="466.00" cy="222.95" r="2.15"/><circle cx="474.80" cy="222.95" r="2.15"/><circle cx="476.40" cy="222.95" r="2.15"/><circle cx="491.50" cy="222.95" r="2.15"/><circle cx="499.10" cy="222.95" r="2.15"/><circle cx="516.50" cy="222.95" r="2.15"/><circle cx="518.50" cy="222.95" r="2.15"/><circle cx="544.80" cy="222.95" r="2.15"/><circle cx="549.00" cy="222.95" r="2.15"/><circle cx="560.50" cy="222.95" r="2.15"/><circle cx="648.90" cy="222.95" r="2.15"/></g><line x1="141.00" y1="222.95" x2="266.30" y2="222.95" stroke="#545454" stroke-opacity="0.95" stroke-width="1.0"/><line x1="378.00" y1="222.95" x2="543.40" y2="222.95" stroke="#545454" stroke-opacity="0.95" stroke-width="1.0"/><line x1="141.00" y1="214.10" x2="141.00" y2="230.70" stroke="#4e4e4e" stroke-width="1.6"/><line x1="543.40" y1="214.10" x2="543.40" y2="230.70" stroke="#4e4e4e" stroke-width="1.6"/><rect x="266.30" y="214.35" width="43.80" height="15.85" fill="rgb(116,131,172)" fill-opacity="0.65"/><rect x="310.10" y="214.35" width="67.90" height="15.85" fill="rgb(178,195,235)" fill-opacity="0.65"/><rect x="266.30" y="214.35" width="111.70" height="15.85" fill="none" stroke="#505050" stroke-width="1.6"/><line x1="310.10" y1="214.35" x2="310.10" y2="230.20" stroke="#505050" stroke-width="1.9"/><path d="M334.85 219.40L341.95 226.50M334.85 226.50L341.95 219.40" stroke="#000" stroke-width="1.8" fill="none"/><text x="116.70" y="257.80" font-size="12" text-anchor="middle" fill="#000" stroke="#000" stroke-width="0.3">0</text><text x="150.25" y="257.80" font-size="12" text-anchor="middle" fill="#000" stroke="#000" stroke-width="0.3">5</text><text x="188.38" y="257.80" font-size="12" text-anchor="middle" fill="#000" stroke="#000" stroke-width="0.3">10</text><text x="226.50" y="257.80" font-size="12" text-anchor="middle" fill="#000" stroke="#000" stroke-width="0.3">15</text><text x="264.62" y="257.80" font-size="12" text-anchor="middle" fill="#000" stroke="#000" stroke-width="0.3">20</text><text x="302.75" y="257.80" font-size="12" text-anchor="middle" fill="#000" stroke="#000" stroke-width="0.3">25</text><text x="340.87" y="257.80" font-size="12" text-anchor="middle" fill="#000" stroke="#000" stroke-width="0.3">30</text><text x="378.99" y="257.80" font-size="12" text-anchor="middle" fill="#000" stroke="#000" stroke-width="0.3">35</text><text x="417.11" y="257.80" font-size="12" text-anchor="middle" fill="#000" stroke="#000" stroke-width="0.3">40</text><text x="455.24" y="257.80" font-size="12" text-anchor="middle" fill="#000" stroke="#000" stroke-width="0.3">45</text><text x="493.36" y="257.80" font-size="12" text-anchor="middle" fill="#000" stroke="#000" stroke-width="0.3">50</text><text x="531.48" y="257.80" font-size="12" text-anchor="middle" fill="#000" stroke="#000" stroke-width="0.3">55</text><text x="569.61" y="257.80" font-size="12" text-anchor="middle" fill="#000" stroke="#000" stroke-width="0.3">60</text><text x="607.73" y="257.80" font-size="12" text-anchor="middle" fill="#000" stroke="#000" stroke-width="0.3">65</text><text x="645.85" y="257.80" font-size="12" text-anchor="middle" fill="#000" stroke="#000" stroke-width="0.3">70</text><text x="676.00" y="257.80" font-size="12" text-anchor="middle" fill="#000" stroke="#000" stroke-width="0.3">75</text><text x="0.05" y="219.50" font-size="13.0" textLength="17.01" lengthAdjust="spacingAndGlyphs" fill="#000" stroke="#000" stroke-width="0.25" font-weight="bold">(d)</text><text x="21.50" y="219.50" font-size="13.0" textLength="25.75" lengthAdjust="spacingAndGlyphs" fill="#000" stroke="#000" stroke-width="0.25">SFPI</text><text x="50.25" y="219.50" font-size="13.0" textLength="30.69" lengthAdjust="spacingAndGlyphs" fill="#000" stroke="#000" stroke-width="0.25">(<tspan font-style='italic'>sfpi</tspan>)</text><text x="0.05" y="235.60" font-size="11.0" textLength="60.38" lengthAdjust="spacingAndGlyphs" fill="#000" stroke="#000" stroke-width="0.25">(kgO3e/m2)</text></g>
<g><line x1="115.50" y1="272.20" x2="115.50" y2="309.57" stroke="#b2b2b2" stroke-width="1.0"/><line x1="204.31" y1="272.20" x2="204.31" y2="309.57" stroke="#b2b2b2" stroke-width="1.0"/><line x1="293.12" y1="272.20" x2="293.12" y2="309.57" stroke="#b2b2b2" stroke-width="1.0"/><line x1="381.93" y1="272.20" x2="381.93" y2="309.57" stroke="#b2b2b2" stroke-width="1.0"/><line x1="470.74" y1="272.20" x2="470.74" y2="309.57" stroke="#b2b2b2" stroke-width="1.0"/><line x1="559.55" y1="272.20" x2="559.55" y2="309.57" stroke="#b2b2b2" stroke-width="1.0"/><line x1="648.36" y1="272.20" x2="648.36" y2="309.57" stroke="#b2b2b2" stroke-width="1.0"/><line x1="112.45" y1="272.20" x2="112.45" y2="305.47" stroke="#d4d4d4" stroke-width="1.0"/><line x1="111.9" y1="305.47" x2="685" y2="305.47" stroke="#a9a9a9" stroke-width="1.05"/><g fill="#4a78aa"><circle cx="114.33" cy="289.40" r="2.15"/><circle cx="115.54" cy="289.40" r="2.15"/><circle cx="116.45" cy="289.40" r="2.15"/><circle cx="117.27" cy="289.40" r="2.15"/><circle cx="118.01" cy="289.40" r="2.15"/><circle cx="118.90" cy="289.40" r="2.15"/><circle cx="119.82" cy="289.40" r="2.15"/><circle cx="120.78" cy="289.40" r="2.15"/><circle cx="121.56" cy="289.40" r="2.15"/><circle cx="122.58" cy="289.40" r="2.15"/><circle cx="123.41" cy="289.40" r="2.15"/><circle cx="124.58" cy="289.40" r="2.15"/><circle cx="125.49" cy="289.40" r="2.15"/><circle cx="126.22" cy="289.40" r="2.15"/><circle cx="127.00" cy="289.40" r="2.15"/><circle cx="128.19" cy="289.40" r="2.15"/><circle cx="128.82" cy="289.40" r="2.15"/><circle cx="129.74" cy="289.40" r="2.15"/><circle cx="130.50" cy="289.40" r="2.15"/><circle cx="131.55" cy="289.40" r="2.15"/><circle cx="132.49" cy="289.40" r="2.15"/><circle cx="133.40" cy="289.40" r="2.15"/><circle cx="134.18" cy="289.40" r="2.15"/><circle cx="135.20" cy="289.40" r="2.15"/><circle cx="135.90" cy="289.40" r="2.15"/><circle cx="136.91" cy="289.40" r="2.15"/><circle cx="137.74" cy="289.40" r="2.15"/><circle cx="138.76" cy="289.40" r="2.15"/><circle cx="139.52" cy="289.40" r="2.15"/><circle cx="140.41" cy="289.40" r="2.15"/><circle cx="141.42" cy="289.40" r="2.15"/><circle cx="142.29" cy="289.40" r="2.15"/><circle cx="143.33" cy="289.40" r="2.15"/><circle cx="144.21" cy="289.40" r="2.15"/><circle cx="145.20" cy="289.40" r="2.15"/><circle cx="146.06" cy="289.40" r="2.15"/><circle cx="146.99" cy="289.40" r="2.15"/><circle cx="147.95" cy="289.40" r="2.15"/><circle cx="148.66" cy="289.40" r="2.15"/><circle cx="149.53" cy="289.40" r="2.15"/><circle cx="150.69" cy="289.40" r="2.15"/><circle cx="151.26" cy="289.40" r="2.15"/><circle cx="152.39" cy="289.40" r="2.15"/><circle cx="153.26" cy="289.40" r="2.15"/><circle cx="153.92" cy="289.40" r="2.15"/><circle cx="155.13" cy="289.40" r="2.15"/><circle cx="156.06" cy="289.40" r="2.15"/><circle cx="156.85" cy="289.40" r="2.15"/><circle cx="157.79" cy="289.40" r="2.15"/><circle cx="158.72" cy="289.40" r="2.15"/><circle cx="159.36" cy="289.40" r="2.15"/><circle cx="160.41" cy="289.40" r="2.15"/><circle cx="161.30" cy="289.40" r="2.15"/><circle cx="162.33" cy="289.40" r="2.15"/><circle cx="163.22" cy="289.40" r="2.15"/><circle cx="164.13" cy="289.40" r="2.15"/><circle cx="164.93" cy="289.40" r="2.15"/><circle cx="165.96" cy="289.40" r="2.15"/><circle cx="166.77" cy="289.40" r="2.15"/><circle cx="167.68" cy="289.40" r="2.15"/><circle cx="170.20" cy="289.40" r="2.15"/><circle cx="171.47" cy="289.40" r="2.15"/><circle cx="173.21" cy="289.40" r="2.15"/><circle cx="175.04" cy="289.40" r="2.15"/><circle cx="176.48" cy="289.40" r="2.15"/><circle cx="178.72" cy="289.40" r="2.15"/><circle cx="180.15" cy="289.40" r="2.15"/><circle cx="181.85" cy="289.40" r="2.15"/><circle cx="185.60" cy="289.40" r="2.15"/><circle cx="187.40" cy="289.40" r="2.15"/><circle cx="189.30" cy="289.40" r="2.15"/><circle cx="193.80" cy="289.40" r="2.15"/><circle cx="197.95" cy="289.40" r="2.15"/><circle cx="199.47" cy="289.40" r="2.15"/><circle cx="200.90" cy="289.40" r="2.15"/><circle cx="202.20" cy="289.40" r="2.15"/><circle cx="204.02" cy="289.40" r="2.15"/><circle cx="205.50" cy="289.40" r="2.15"/><circle cx="206.90" cy="289.40" r="2.15"/><circle cx="208.41" cy="289.40" r="2.15"/><circle cx="209.96" cy="289.40" r="2.15"/><circle cx="211.23" cy="289.40" r="2.15"/><circle cx="212.99" cy="289.40" r="2.15"/><circle cx="229.10" cy="289.40" r="2.15"/><circle cx="234.10" cy="289.40" r="2.15"/><circle cx="252.40" cy="289.40" r="2.15"/><circle cx="261.00" cy="289.40" r="2.15"/><circle cx="268.50" cy="289.40" r="2.15"/><circle cx="274.80" cy="289.40" r="2.15"/><circle cx="279.60" cy="289.40" r="2.15"/><circle cx="311.80" cy="289.40" r="2.15"/><circle cx="313.80" cy="289.40" r="2.15"/><circle cx="315.60" cy="289.40" r="2.15"/><circle cx="318.30" cy="289.40" r="2.15"/><circle cx="335.40" cy="289.40" r="2.15"/><circle cx="390.60" cy="289.40" r="2.15"/><circle cx="460.90" cy="289.40" r="2.15"/><circle cx="473.10" cy="289.40" r="2.15"/><circle cx="486.90" cy="289.40" r="2.15"/><circle cx="488.40" cy="289.40" r="2.15"/><circle cx="501.70" cy="289.40" r="2.15"/><circle cx="545.10" cy="289.40" r="2.15"/><circle cx="604.20" cy="289.40" r="2.15"/><circle cx="627.50" cy="289.40" r="2.15"/><circle cx="665.60" cy="289.40" r="2.15"/></g><line x1="115.10" y1="289.45" x2="122.70" y2="289.45" stroke="#545454" stroke-opacity="0.95" stroke-width="1.0"/><line x1="167.70" y1="289.45" x2="233.40" y2="289.45" stroke="#545454" stroke-opacity="0.95" stroke-width="1.0"/><line x1="115.10" y1="281.00" x2="115.10" y2="297.00" stroke="#4e4e4e" stroke-width="1.7"/><line x1="233.40" y1="281.00" x2="233.40" y2="297.00" stroke="#4e4e4e" stroke-width="1.7"/><rect x="122.70" y="280.80" width="13.20" height="16.30" fill="rgb(116,131,172)" fill-opacity="0.65"/><rect x="135.90" y="280.80" width="31.80" height="16.30" fill="rgb(178,195,235)" fill-opacity="0.65"/><rect x="122.70" y="280.80" width="45.00" height="16.30" fill="none" stroke="#505050" stroke-width="1.6"/><line x1="135.90" y1="280.80" x2="135.90" y2="297.10" stroke="#505050" stroke-width="1.9"/><text x="138.70" y="324.07" font-size="12" text-anchor="middle" fill="#000" stroke="#000" stroke-width="0.3">0.00e+00</text><text x="204.31" y="324.07" font-size="12" text-anchor="middle" fill="#000" stroke="#000" stroke-width="0.3">5.00e-05</text><text x="293.12" y="324.07" font-size="12" text-anchor="middle" fill="#000" stroke="#000" stroke-width="0.3">1.00e-04</text><text x="381.93" y="324.07" font-size="12" text-anchor="middle" fill="#000" stroke="#000" stroke-width="0.3">1.50e-04</text><text x="470.74" y="324.07" font-size="12" text-anchor="middle" fill="#000" stroke="#000" stroke-width="0.3">2.00e-04</text><text x="559.55" y="324.07" font-size="12" text-anchor="middle" fill="#000" stroke="#000" stroke-width="0.3">2.50e-04</text><text x="648.36" y="324.07" font-size="12" text-anchor="middle" fill="#000" stroke="#000" stroke-width="0.3">3.00e-04</text><text x="0.05" y="286.30" font-size="13.0" textLength="16.60" lengthAdjust="spacingAndGlyphs" fill="#000" stroke="#000" stroke-width="0.25" font-weight="bold">(e)</text><text x="19.60" y="286.30" font-size="13.0" textLength="30.80" lengthAdjust="spacingAndGlyphs" fill="#000" stroke="#000" stroke-width="0.25">ODPI</text><text x="53.35" y="286.30" font-size="13.0" textLength="35.82" lengthAdjust="spacingAndGlyphs" fill="#000" stroke="#000" stroke-width="0.25">(<tspan font-style='italic'>odpi</tspan>)</text><text x="0.05" y="302.10" font-size="11.0" textLength="77.37" lengthAdjust="spacingAndGlyphs" fill="#000" stroke="#000" stroke-width="0.25">(kgCFC11e/m2)</text></g>
<g><line x1="115.42" y1="338.60" x2="115.42" y2="376.00" stroke="#b2b2b2" stroke-width="1.0"/><line x1="150.98" y1="338.60" x2="150.98" y2="376.00" stroke="#b2b2b2" stroke-width="1.0"/><line x1="186.54" y1="338.60" x2="186.54" y2="376.00" stroke="#b2b2b2" stroke-width="1.0"/><line x1="222.10" y1="338.60" x2="222.10" y2="376.00" stroke="#b2b2b2" stroke-width="1.0"/><line x1="257.66" y1="338.60" x2="257.66" y2="376.00" stroke="#b2b2b2" stroke-width="1.0"/><line x1="293.22" y1="338.60" x2="293.22" y2="376.00" stroke="#b2b2b2" stroke-width="1.0"/><line x1="328.78" y1="338.60" x2="328.78" y2="376.00" stroke="#b2b2b2" stroke-width="1.0"/><line x1="364.34" y1="338.60" x2="364.34" y2="376.00" stroke="#b2b2b2" stroke-width="1.0"/><line x1="399.90" y1="338.60" x2="399.90" y2="376.00" stroke="#b2b2b2" stroke-width="1.0"/><line x1="435.46" y1="338.60" x2="435.46" y2="376.00" stroke="#b2b2b2" stroke-width="1.0"/><line x1="471.02" y1="338.60" x2="471.02" y2="376.00" stroke="#b2b2b2" stroke-width="1.0"/><line x1="506.58" y1="338.60" x2="506.58" y2="376.00" stroke="#b2b2b2" stroke-width="1.0"/><line x1="542.14" y1="338.60" x2="542.14" y2="376.00" stroke="#b2b2b2" stroke-width="1.0"/><line x1="577.70" y1="338.60" x2="577.70" y2="376.00" stroke="#b2b2b2" stroke-width="1.0"/><line x1="613.26" y1="338.60" x2="613.26" y2="376.00" stroke="#b2b2b2" stroke-width="1.0"/><line x1="648.82" y1="338.60" x2="648.82" y2="376.00" stroke="#b2b2b2" stroke-width="1.0"/><line x1="684.38" y1="338.60" x2="684.38" y2="376.00" stroke="#b2b2b2" stroke-width="1.0"/><line x1="112.45" y1="338.60" x2="112.45" y2="371.90" stroke="#d4d4d4" stroke-width="1.0"/><line x1="111.9" y1="371.90" x2="685" y2="371.90" stroke="#a9a9a9" stroke-width="1.05"/><g fill="#4a78aa"><circle cx="142.40" cy="355.85" r="2.15"/><circle cx="151.20" cy="355.85" r="2.15"/><circle cx="152.90" cy="355.85" r="2.15"/><circle cx="154.60" cy="355.85" r="2.15"/><circle cx="160.40" cy="355.85" r="2.15"/><circle cx="165.60" cy="355.85" r="2.15"/><circle cx="166.60" cy="355.85" r="2.15"/><circle cx="173.20" cy="355.85" r="2.15"/><circle cx="174.52" cy="355.85" r="2.15"/><circle cx="176.47" cy="355.85" r="2.15"/><circle cx="178.68" cy="355.85" r="2.15"/><circle cx="179.91" cy="355.85" r="2.15"/><circle cx="182.19" cy="355.85" r="2.15"/><circle cx="184.18" cy="355.85" r="2.15"/><circle cx="185.44" cy="355.85" r="2.15"/><circle cx="187.08" cy="355.85" r="2.15"/><circle cx="188.93" cy="355.85" r="2.15"/><circle cx="190.88" cy="355.85" r="2.15"/><circle cx="192.72" cy="355.85" r="2.15"/><circle cx="194.32" cy="355.85" r="2.15"/><circle cx="196.09" cy="355.85" r="2.15"/><circle cx="197.28" cy="355.85" r="2.15"/><circle cx="199.10" cy="355.85" r="2.15"/><circle cx="200.95" cy="355.85" r="2.15"/><circle cx="203.19" cy="355.85" r="2.15"/><circle cx="204.50" cy="355.85" r="2.15"/><circle cx="206.52" cy="355.85" r="2.15"/><circle cx="207.71" cy="355.85" r="2.15"/><circle cx="209.51" cy="355.85" r="2.15"/><circle cx="211.47" cy="355.85" r="2.15"/><circle cx="213.62" cy="355.85" r="2.15"/><circle cx="215.39" cy="355.85" r="2.15"/><circle cx="217.13" cy="355.85" r="2.15"/><circle cx="218.49" cy="355.85" r="2.15"/><circle cx="220.47" cy="355.85" r="2.15"/><circle cx="228.70" cy="355.85" r="2.15"/><circle cx="230.37" cy="355.85" r="2.15"/><circle cx="231.79" cy="355.85" r="2.15"/><circle cx="234.11" cy="355.85" r="2.15"/><circle cx="235.26" cy="355.85" r="2.15"/><circle cx="237.58" cy="355.85" r="2.15"/><circle cx="239.25" cy="355.85" r="2.15"/><circle cx="240.21" cy="355.85" r="2.15"/><circle cx="242.27" cy="355.85" r="2.15"/><circle cx="244.26" cy="355.85" r="2.15"/><circle cx="246.07" cy="355.85" r="2.15"/><circle cx="253.40" cy="355.85" r="2.15"/><circle cx="254.91" cy="355.85" r="2.15"/><circle cx="256.57" cy="355.85" r="2.15"/><circle cx="258.86" cy="355.85" r="2.15"/><circle cx="259.97" cy="355.85" r="2.15"/><circle cx="261.97" cy="355.85" r="2.15"/><circle cx="263.31" cy="355.85" r="2.15"/><circle cx="265.32" cy="355.85" r="2.15"/><circle cx="267.36" cy="355.85" r="2.15"/><circle cx="268.41" cy="355.85" r="2.15"/><circle cx="270.66" cy="355.85" r="2.15"/><circle cx="272.11" cy="355.85" r="2.15"/><circle cx="274.11" cy="355.85" r="2.15"/><circle cx="275.66" cy="355.85" r="2.15"/><circle cx="276.99" cy="355.85" r="2.15"/><circle cx="282.54" cy="355.85" r="2.15"/><circle cx="283.79" cy="355.85" r="2.15"/><circle cx="285.01" cy="355.85" r="2.15"/><circle cx="286.50" cy="355.85" r="2.15"/><circle cx="288.30" cy="355.85" r="2.15"/><circle cx="289.77" cy="355.85" r="2.15"/><circle cx="291.18" cy="355.85" r="2.15"/><circle cx="292.58" cy="355.85" r="2.15"/><circle cx="294.21" cy="355.85" r="2.15"/><circle cx="295.69" cy="355.85" r="2.15"/><circle cx="297.50" cy="355.85" r="2.15"/><circle cx="298.50" cy="355.85" r="2.15"/><circle cx="300.45" cy="355.85" r="2.15"/><circle cx="302.00" cy="355.85" r="2.15"/><circle cx="303.07" cy="355.85" r="2.15"/><circle cx="305.06" cy="355.85" r="2.15"/><circle cx="310.63" cy="355.85" r="2.15"/><circle cx="312.44" cy="355.85" r="2.15"/><circle cx="313.77" cy="355.85" r="2.15"/><circle cx="315.52" cy="355.85" r="2.15"/><circle cx="317.24" cy="355.85" r="2.15"/><circle cx="319.30" cy="355.85" r="2.15"/><circle cx="323.75" cy="355.85" r="2.15"/><circle cx="325.32" cy="355.85" r="2.15"/><circle cx="327.06" cy="355.85" r="2.15"/><circle cx="328.67" cy="355.85" r="2.15"/><circle cx="330.23" cy="355.85" r="2.15"/><circle cx="336.40" cy="355.85" r="2.15"/><circle cx="338.30" cy="355.85" r="2.15"/><circle cx="339.67" cy="355.85" r="2.15"/><circle cx="341.76" cy="355.85" r="2.15"/><circle cx="343.05" cy="355.85" r="2.15"/><circle cx="344.76" cy="355.85" r="2.15"/><circle cx="346.61" cy="355.85" r="2.15"/><circle cx="351.70" cy="355.85" r="2.15"/><circle cx="353.50" cy="355.85" r="2.15"/><circle cx="355.30" cy="355.85" r="2.15"/><circle cx="357.00" cy="355.85" r="2.15"/><circle cx="361.20" cy="355.85" r="2.15"/><circle cx="362.77" cy="355.85" r="2.15"/><circle cx="365.06" cy="355.85" r="2.15"/><circle cx="366.68" cy="355.85" r="2.15"/><circle cx="368.31" cy="355.85" r="2.15"/><circle cx="369.83" cy="355.85" r="2.15"/><circle cx="371.81" cy="355.85" r="2.15"/><circle cx="373.54" cy="355.85" r="2.15"/><circle cx="374.85" cy="355.85" r="2.15"/><circle cx="376.72" cy="355.85" r="2.15"/><circle cx="377.75" cy="355.85" r="2.15"/><circle cx="380.13" cy="355.85" r="2.15"/><circle cx="381.55" cy="355.85" r="2.15"/><circle cx="383.55" cy="355.85" r="2.15"/><circle cx="385.14" cy="355.85" r="2.15"/><circle cx="386.49" cy="355.85" r="2.15"/><circle cx="387.95" cy="355.85" r="2.15"/><circle cx="390.53" cy="355.85" r="2.15"/><circle cx="391.43" cy="355.85" r="2.15"/><circle cx="395.60" cy="355.85" r="2.15"/><circle cx="397.21" cy="355.85" r="2.15"/><circle cx="398.88" cy="355.85" r="2.15"/><circle cx="400.84" cy="355.85" r="2.15"/><circle cx="402.69" cy="355.85" r="2.15"/><circle cx="403.96" cy="355.85" r="2.15"/><circle cx="410.00" cy="355.85" r="2.15"/><circle cx="415.02" cy="355.85" r="2.15"/><circle cx="416.64" cy="355.85" r="2.15"/><circle cx="418.75" cy="355.85" r="2.15"/><circle cx="420.52" cy="355.85" r="2.15"/><circle cx="422.23" cy="355.85" r="2.15"/><circle cx="424.13" cy="355.85" r="2.15"/><circle cx="426.07" cy="355.85" r="2.15"/><circle cx="428.52" cy="355.85" r="2.15"/><circle cx="430.10" cy="355.85" r="2.15"/><circle cx="444.60" cy="355.85" r="2.15"/><circle cx="447.00" cy="355.85" r="2.15"/><circle cx="449.50" cy="355.85" r="2.15"/><circle cx="451.70" cy="355.85" r="2.15"/><circle cx="457.70" cy="355.85" r="2.15"/><circle cx="467.20" cy="355.85" r="2.15"/><circle cx="474.10" cy="355.85" r="2.15"/><circle cx="507.60" cy="355.85" r="2.15"/><circle cx="517.50" cy="355.85" r="2.15"/><circle cx="521.40" cy="355.85" r="2.15"/><circle cx="607.80" cy="355.85" r="2.15"/><circle cx="670.60" cy="355.85" r="2.15"/></g><line x1="142.80" y1="355.75" x2="225.60" y2="355.75" stroke="#545454" stroke-opacity="0.82" stroke-width="1.05"/><line x1="349.20" y1="355.75" x2="520.80" y2="355.75" stroke="#545454" stroke-opacity="0.82" stroke-width="1.05"/><line x1="142.80" y1="347.10" x2="142.80" y2="363.70" stroke="#4e4e4e" stroke-width="1.8"/><line x1="520.80" y1="347.10" x2="520.80" y2="363.70" stroke="#4e4e4e" stroke-width="1.8"/><rect x="225.60" y="347.30" width="54.70" height="15.90" fill="rgb(116,131,172)" fill-opacity="0.65"/><rect x="280.30" y="347.30" width="68.90" height="15.90" fill="rgb(178,195,235)" fill-opacity="0.65"/><rect x="225.60" y="347.30" width="123.60" height="15.90" fill="none" stroke="#505050" stroke-width="1.6"/><line x1="280.30" y1="347.30" x2="280.30" y2="363.20" stroke="#505050" stroke-width="1.9"/><path d="M295.55 352.30L302.65 359.40M295.55 359.40L302.65 352.30" stroke="#000" stroke-width="1.8" fill="none"/><text x="120.30" y="390.50" font-size="12" text-anchor="middle" textLength="13.2" lengthAdjust="spacingAndGlyphs" fill="#000" stroke="#000" stroke-width="0.3">0K</text><text x="150.98" y="390.50" font-size="12" text-anchor="middle" textLength="13.2" lengthAdjust="spacingAndGlyphs" fill="#000" stroke="#000" stroke-width="0.3">1K</text><text x="186.54" y="390.50" font-size="12" text-anchor="middle" textLength="13.2" lengthAdjust="spacingAndGlyphs" fill="#000" stroke="#000" stroke-width="0.3">2K</text><text x="222.10" y="390.50" font-size="12" text-anchor="middle" textLength="13.2" lengthAdjust="spacingAndGlyphs" fill="#000" stroke="#000" stroke-width="0.3">3K</text><text x="257.66" y="390.50" font-size="12" text-anchor="middle" textLength="13.2" lengthAdjust="spacingAndGlyphs" fill="#000" stroke="#000" stroke-width="0.3">4K</text><text x="293.22" y="390.50" font-size="12" text-anchor="middle" textLength="13.2" lengthAdjust="spacingAndGlyphs" fill="#000" stroke="#000" stroke-width="0.3">5K</text><text x="328.78" y="390.50" font-size="12" text-anchor="middle" textLength="13.2" lengthAdjust="spacingAndGlyphs" fill="#000" stroke="#000" stroke-width="0.3">6K</text><text x="364.34" y="390.50" font-size="12" text-anchor="middle" textLength="13.2" lengthAdjust="spacingAndGlyphs" fill="#000" stroke="#000" stroke-width="0.3">7K</text><text x="399.90" y="390.50" font-size="12" text-anchor="middle" textLength="13.2" lengthAdjust="spacingAndGlyphs" fill="#000" stroke="#000" stroke-width="0.3">8K</text><text x="435.46" y="390.50" font-size="12" text-anchor="middle" textLength="13.2" lengthAdjust="spacingAndGlyphs" fill="#000" stroke="#000" stroke-width="0.3">9K</text><text x="471.02" y="390.50" font-size="12" text-anchor="middle" textLength="19.9" lengthAdjust="spacingAndGlyphs" fill="#000" stroke="#000" stroke-width="0.3">10K</text><text x="506.58" y="390.50" font-size="12" text-anchor="middle" textLength="19.9" lengthAdjust="spacingAndGlyphs" fill="#000" stroke="#000" stroke-width="0.3">11K</text><text x="542.14" y="390.50" font-size="12" text-anchor="middle" textLength="19.9" lengthAdjust="spacingAndGlyphs" fill="#000" stroke="#000" stroke-width="0.3">12K</text><text x="577.70" y="390.50" font-size="12" text-anchor="middle" textLength="19.9" lengthAdjust="spacingAndGlyphs" fill="#000" stroke="#000" stroke-width="0.3">13K</text><text x="613.26" y="390.50" font-size="12" text-anchor="middle" textLength="19.9" lengthAdjust="spacingAndGlyphs" fill="#000" stroke="#000" stroke-width="0.3">14K</text><text x="648.82" y="390.50" font-size="12" text-anchor="middle" textLength="19.9" lengthAdjust="spacingAndGlyphs" fill="#000" stroke="#000" stroke-width="0.3">15K</text><text x="672.70" y="390.50" font-size="12" text-anchor="middle" textLength="19.9" lengthAdjust="spacingAndGlyphs" fill="#000" stroke="#000" stroke-width="0.3">16K</text><text x="0.00" y="351.50" font-size="13.0" textLength="14.10" lengthAdjust="spacingAndGlyphs" fill="#000" stroke="#000" stroke-width="0.25" font-weight="bold">(f)</text><text x="18.70" y="351.50" font-size="13.0" textLength="38.00" lengthAdjust="spacingAndGlyphs" fill="#000" stroke="#000" stroke-width="0.25">NREDI</text><text x="60.75" y="351.50" font-size="13.0" textLength="40.11" lengthAdjust="spacingAndGlyphs" fill="#000" stroke="#000" stroke-width="0.25">(<tspan font-style='italic'>nredi</tspan>)</text><text x="0.00" y="367.60" font-size="11.0" textLength="42.95" lengthAdjust="spacingAndGlyphs" fill="#000" stroke="#000" stroke-width="0.25">(MJ/m2)</text></g>
</svg>
</body></html>
